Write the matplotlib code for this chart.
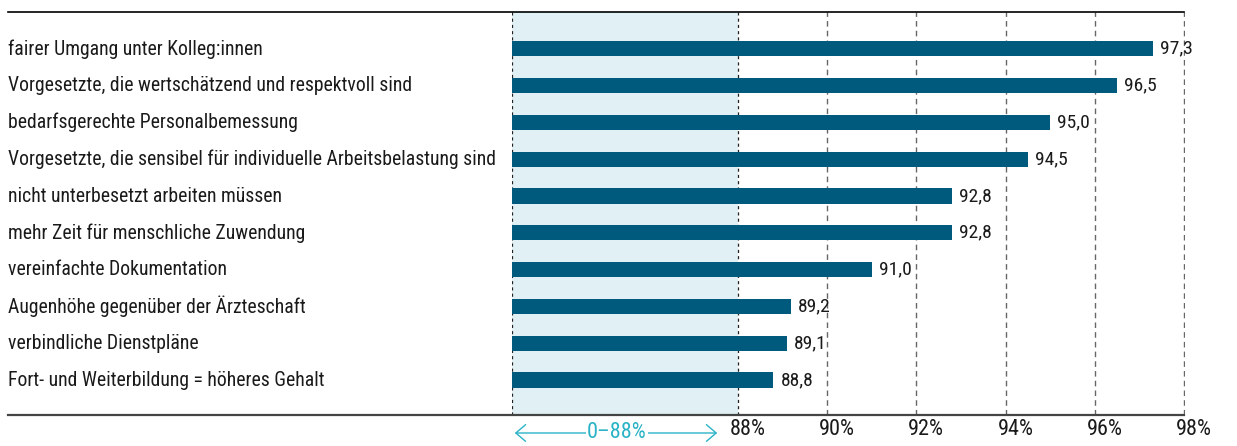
import numpy as np
import matplotlib
matplotlib.use("Agg")
import matplotlib.pyplot as plt
from matplotlib import font_manager
from matplotlib.transforms import ScaledTranslation, blended_transform_factory

categories = [
    "fairer Umgang unter Kolleg:innen",
    "Vorgesetzte, die wertschätzend und respektvoll sind",
    "bedarfsgerechte Personalbemessung",
    "Vorgesetzte, die sensibel für individuelle Arbeitsbelastung sind",
    "nicht unterbesetzt arbeiten müssen",
    "mehr Zeit für menschliche Zuwendung",
    "vereinfachte Dokumentation",
    "Augenhöhe gegenüber der Ärzteschaft",
    "verbindliche Dienstpläne",
    "Fort- und Weiterbildung = höheres Gehalt",
]
values = [97.3, 96.5, 95.0, 94.5, 92.8, 92.8, 91.0, 89.2, 89.1, 88.8]
tick_values = [88, 90, 92, 94, 96, 98]
tick_labels = ["88%", "90%", "92%", "94%", "96%", "98%"]
break_label = "0–88%"

# pick a condensed font if one is installed
entries = font_manager.fontManager.ttflist
names = {f.name for f in entries}
stretch = "normal"
fam = "DejaVu Sans"
for cand in ["Liberation Sans Narrow", "Roboto Condensed", "Open Sans Condensed", "Noto Sans Condensed"]:
    if cand in names:
        fam = cand
        break
else:
    cond = [f for f in entries if f.name in ("Roboto", "Noto Sans", "Open Sans", "DejaVu Sans")
            and str(f.stretch) in ("condensed", "semi-condensed", "500", "600", "400")
            and str(f.stretch) not in ("normal",)]
    for pref in ["Roboto", "Noto Sans", "Open Sans", "DejaVu Sans"]:
        hits = [f for f in cond if f.name == pref]
        if hits:
            fam = pref
            stretch = "condensed"
            break
plt.rcParams['font.family'] = [fam, 'DejaVu Sans']
plt.rcParams['font.stretch'] = stretch

BAR = "#005a7d"
SHADE = "#e1f0f5"
TEAL = "#2ab3c6"
TXT = "#1a1a1a"

W, H = 1237, 446
fig = plt.figure(figsize=(W / 100, H / 100), dpi=100)
ax = fig.add_axes([512 / W, 1 - 415 / H, (1185 - 512) / W, (415 - 12) / H])

BRK = 88.0
wid = 5.056

def fwd(x):
    x = np.asarray(x, dtype=float)
    return np.where(x >= BRK, x, BRK - wid * (BRK - x) / BRK)

def inv(y):
    y = np.asarray(y, dtype=float)
    return np.where(y >= BRK, y, BRK - (BRK - y) * BRK / wid)

ax.set_xscale('function', functions=(fwd, inv))
ax.set_xlim(0, 98.02)
n = len(categories)
ypos = np.arange(n)
ax.set_ylim(n - 1 + 0.95, -1.0)

ax.axvspan(0, BRK, color=SHADE, zorder=0, lw=0)
ax.barh(ypos, values, height=0.41, color=BAR, zorder=3)

for xv in [0] + tick_values:
    if xv in (0, 88):
        ax.axvline(xv, color="#222222", lw=0.9, ls=(0, (2.5, 2.5)), zorder=2)
    else:
        ax.axvline(xv, color="#666666", lw=1.0, ls=(0, (4, 3)), zorder=2)

off = ScaledTranslation(7 / 100, 0, fig.dpi_scale_trans)
for y, v in zip(ypos, values):
    ax.text(v, y, f"{v:.1f}".replace(".", ","), ha="left", va="center",
            fontsize=14, color=TXT, transform=ax.transData + off, zorder=4)

tr = blended_transform_factory(fig.transFigure, ax.transData)
for y, c in zip(ypos, categories):
    ax.text(8 / W, y, c, ha="left", va="center", fontsize=14.2, color=TXT,
            transform=tr)

for s in ax.spines.values():
    s.set_visible(False)
ax.set_yticks([])
ax.set_xticks(tick_values)
ax.set_xticklabels(tick_labels, fontsize=16, color=TXT)
ax.tick_params(axis="x", length=0, pad=3)
loff = ScaledTranslation(-8 / 100, 0, fig.dpi_scale_trans)
for lab in ax.get_xticklabels():
    lab.set_ha("left")
    lab.set_transform(lab.get_transform() + loff)

# top and bottom rules
fig.add_artist(plt.Line2D([8 / W, 1184 / W], [1 - 12 / H, 1 - 12 / H], color="black", lw=1.2))
fig.add_artist(plt.Line2D([8 / W, 1184 / W], [1 - 415 / H, 1 - 415 / H], color="#444444", lw=1.6))

# break annotation
ybr = 1 - 433 / H
fig.add_artist(matplotlib.patches.FancyArrowPatch((512 / W, ybr), (720 / W, ybr),
               arrowstyle="<->,head_length=7,head_width=6", color=TEAL, lw=1.0,
               transform=fig.transFigure, mutation_scale=1))
fig.text(617 / W, ybr, break_label, ha="center", va="center", fontsize=16, color=TEAL,
         bbox=dict(facecolor="white", edgecolor="none", pad=1))

fig.savefig("out.png", dpi=100)
